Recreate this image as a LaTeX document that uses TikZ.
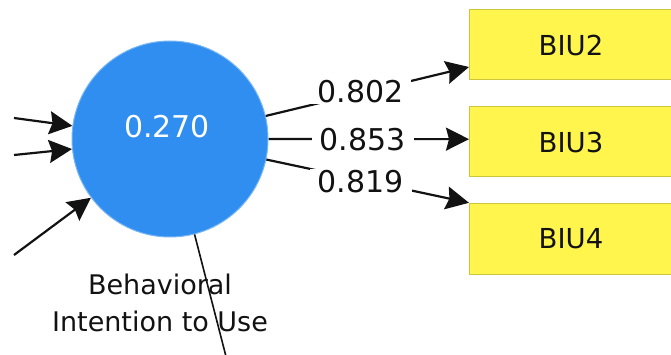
\documentclass[tikz,border=0pt]{standalone}
\usepackage{fontspec}
\setmainfont{DejaVu Sans}
\usetikzlibrary{arrows.meta,calc}

\definecolor{lvblue}{RGB}{47,142,240}
\definecolor{lvedge}{RGB}{120,182,246}
\definecolor{mvfill}{RGB}{255,245,76}
\definecolor{mvedge}{RGB}{205,198,60}
\definecolor{ink}{RGB}{18,18,18}

\tikzset{
  latent/.style={circle, fill=lvblue, draw=lvedge, line width=1pt,
    minimum size=196pt, inner sep=0pt},
  indicator/.style={rectangle, fill=mvfill, draw=mvedge, line width=1pt,
    minimum width=203pt, minimum height=70pt, inner sep=0pt,
    font=\fontsize{27.5}{33}\selectfont, text=ink},
  path/.style={line width=2.2pt, draw=ink,
    -{Stealth[length=23pt,width=23pt,inset=3pt]}},
  plain/.style={line width=1.6pt, draw=ink},
  loading/.style={fill=white, inner xsep=8pt, inner ysep=1pt,
    font=\fontsize{30}{36}\selectfont, text=ink},
}

\begin{document}
\begin{tikzpicture}[x=1pt, y=-1pt]
  \useasboundingbox (0,0) rectangle (671,355);
  \clip (0,0) rectangle (671,355);

  % latent variable
  \node[latent] (bi) at (170,139) {};
  \node[text=white, font=\fontsize{30}{36}\selectfont] (bival) at (167,127) {0.270};

  % indicators
  \node[indicator] (biu2) at (571,45) {BIU2};
  \node[indicator] (biu3) at (571,142) {BIU3};
  \node[indicator] (biu4) at (571,239) {BIU4};

  % free ends of incoming and outgoing paths
  \coordinate (in1) at (14,118);
  \coordinate (in2) at (14,155);
  \coordinate (in3) at (14,255);
  \coordinate (out1) at (230,372);

  % contact points on the indicator boxes
  \coordinate (t2) at ($(biu2.north west)!0.81!(biu2.south west)$);
  \coordinate (t3) at ($(biu3.north west)!0.46!(biu3.south west)$);
  \coordinate (t4) at ($(biu4.north west)!-0.01!(biu4.south west)$);

  % incoming paths
  \draw[path] (in1) -- (bi);
  \draw[path] (in2) -- (bi);
  \draw[path] (in3) -- (bi);

  % outer loadings
  \draw[path] (bi) -- node[loading, xshift=-7pt] {0.802} (t2);
  \draw[path] (bi) -- node[loading, xshift=-6pt] {0.853} (t3);
  \draw[path] (bi) -- node[loading, xshift=-7pt] {0.819} (t4);

  % name of the construct
  \node[align=center, font=\fontsize{27}{37}\selectfont, text=ink]
    (biname) at (160,303) {Behavioral\\Intention to Use};

  % outgoing path towards the lower construct
  \draw[plain] (bi) -- (out1);
\end{tikzpicture}
\end{document}
